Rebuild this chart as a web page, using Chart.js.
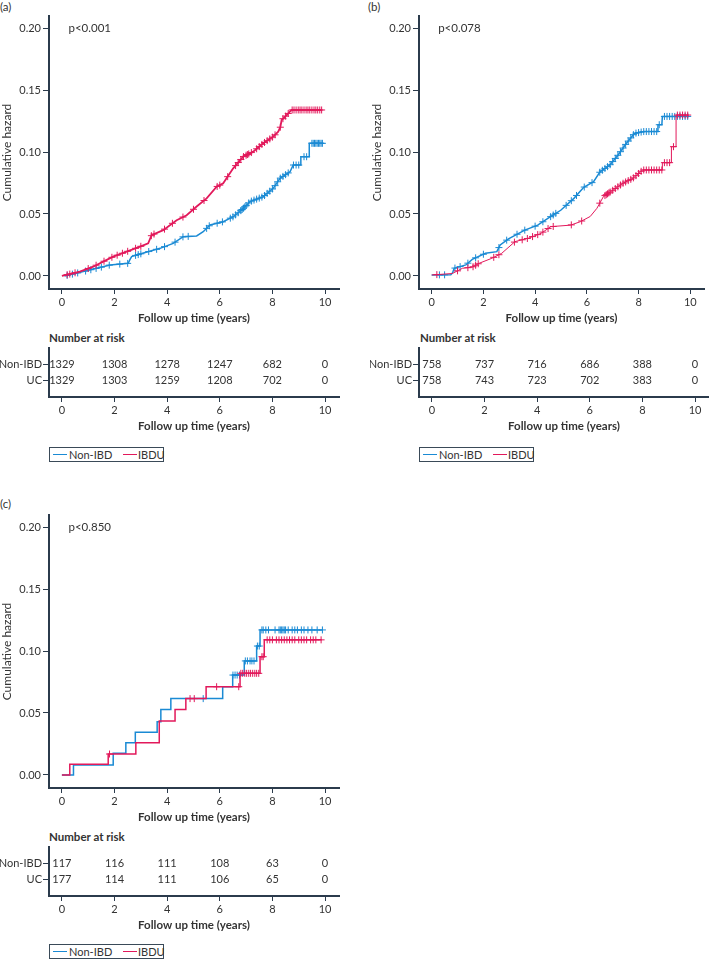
<!DOCTYPE html>
<html>
<head>
<meta charset="utf-8">
<script src="https://cdn.jsdelivr.net/npm/chart.js@4.4.1/dist/chart.umd.min.js"></script>
<style>
  body { margin: 0; background: #fff; font-family: Lato, sans-serif; color: #333; }
  #page { position: relative; width: 709px; height: 962px; overflow: hidden; }
  canvas, .lbl, .legend { position: absolute; }
  .lbl { font-size: 11.5px; line-height: 13px; white-space: nowrap; }
  .bold { font-weight: bold; }
  .legend { width: 113px; height: 13px; border: 1px solid #3a4a58; }
  .legend .ln { position: absolute; top: 6px; width: 14px; height: 1px; }
  .legend .tx { position: absolute; top: 0; font-size: 11px; line-height: 13px; }
</style>
</head>
<body>
<div id="page">
  <div class="lbl" style="left:0;top:0">(a)</div>
  <div class="lbl" style="left:368px;top:0">(b)</div>
  <div class="lbl" style="left:0;top:497px">(c)</div>

  <canvas id="mainA" width="345" height="330" style="left:0;top:0"></canvas>
  <canvas id="mainB" width="354" height="330" style="left:355px;top:0"></canvas>
  <canvas id="mainC" width="345" height="330" style="left:0;top:499px"></canvas>

  <div class="lbl bold" style="left:49px;top:331px">Number at risk</div>
  <div class="lbl bold" style="left:420px;top:331px">Number at risk</div>
  <div class="lbl bold" style="left:49px;top:830px">Number at risk</div>

  <canvas id="riskA" width="345" height="98" style="left:0;top:340px"></canvas>
  <canvas id="riskB" width="354" height="98" style="left:355px;top:340px"></canvas>
  <canvas id="riskC" width="345" height="98" style="left:0;top:839px"></canvas>

  <div class="legend" id="legA" style="left:49px;top:447px"></div>
  <div class="legend" id="legB" style="left:419px;top:447px"></div>
  <div class="legend" id="legC" style="left:49px;top:944px"></div>
</div>

<script>
const BLUE = '#1a8ad4';
const RED = '#e2195b';
const AXIS = '#2b3b4c';
const TEXT = '#333333';

const seriesNames = ['Non-IBD', 'IBDU'];
const riskRows = ['Non-IBD', 'UC'];
const xTicks = [0, 2, 4, 6, 8, 10];
const yTicks = [0, 0.05, 0.10, 0.15, 0.20];
const riskTimes = [0, 2, 4, 6, 8, 10];

// (a)
const aNonIbdT = [0.1, 0.81, 1.32, 1.83, 2.52, 2.58, 2.65, 2.97, 3.73, 4.23, 4.61, 5.12, 5.37, 5.63, 6.13, 6.51, 6.83, 7.15, 7.65, 8.03, 8.29, 8.67, 8.79, 9.08, 9.08, 9.4, 9.4, 9.94];
const aNonIbdH = [0, 0.0035, 0.0062, 0.0089, 0.0102, 0.013, 0.0156, 0.0177, 0.0223, 0.0263, 0.0317, 0.0323, 0.0357, 0.0411, 0.0438, 0.0478, 0.0532, 0.06, 0.064, 0.0707, 0.0788, 0.0841, 0.0895, 0.0895, 0.0962, 0.0962, 0.107, 0.107];
const aIbduT = [0, 0.68, 1.19, 1.57, 1.95, 2.46, 2.97, 3.28, 3.35, 3.41, 3.85, 4.36, 4.74, 5.12, 5.5, 5.88, 6.13, 6.51, 6.89, 7.27, 7.65, 8.03, 8.22, 8.3, 8.35, 8.54, 8.73, 9.87];
const aIbduH = [0, 0.0035, 0.0075, 0.0116, 0.0156, 0.0196, 0.0237, 0.0263, 0.03, 0.033, 0.037, 0.045, 0.049, 0.056, 0.0626, 0.072, 0.0747, 0.0868, 0.0962, 0.1003, 0.107, 0.1124, 0.1164, 0.12, 0.1258, 0.1298, 0.1339, 0.1339];
const aNonIbdCens = [0.2, 0.4, 0.6, 0.9, 1.1, 1.3, 1.5, 1.8, 2.2, 2.5, 2.8, 2.9, 3.0, 3.3, 3.6, 3.9, 4.3, 4.6, 4.8, 5.5, 5.6, 5.9, 6.1, 6.4, 6.5, 6.6, 6.7, 6.8, 6.85, 6.9, 6.95, 7.0, 7.1, 7.2, 7.3, 7.4, 7.5, 7.6, 7.7, 7.8, 7.9, 8.0, 8.1, 8.2, 8.3, 8.4, 8.5, 8.6, 8.8, 8.9, 9.0, 9.2, 9.3, 9.5, 9.55, 9.6, 9.65, 9.7, 9.75, 9.8, 9.85, 9.9];
const aIbduCens = [0.2, 0.3, 0.5, 1.0, 1.3, 1.6, 1.9, 2.1, 2.3, 2.5, 2.8, 3.0, 3.4, 3.5, 3.9, 4.2, 4.6, 5.0, 5.4, 5.9, 6.0, 6.3, 6.6, 6.7, 6.8, 6.9, 7.0, 7.05, 7.1, 7.2, 7.4, 7.5, 7.6, 7.7, 7.8, 7.9, 8.0, 8.1, 8.3, 8.4, 8.5, 8.6, 8.75, 8.82, 8.9, 8.98, 9.05, 9.12, 9.2, 9.28, 9.35, 9.42, 9.5, 9.58, 9.65, 9.72, 9.8, 9.87];
const aRiskNonIbd = [1329, 1308, 1278, 1247, 682, 0];
const aRiskUc = [1329, 1303, 1259, 1208, 702, 0];

// (b)
const bNonIbdT = [0, 0.74, 0.81, 0.87, 1.32, 1.57, 2.08, 2.52, 2.65, 2.97, 3.6, 4.1, 4.61, 4.99, 5.5, 5.88, 6.26, 6.51, 6.89, 7.21, 7.53, 7.84, 8.2, 8.72, 8.75, 8.9, 8.92, 9.94];
const bNonIbdH = [0.0008, 0.001, 0.0027, 0.0062, 0.0089, 0.0134, 0.0183, 0.0196, 0.025, 0.03, 0.037, 0.041, 0.048, 0.053, 0.0626, 0.0715, 0.076, 0.084, 0.0895, 0.0976, 0.107, 0.115, 0.1165, 0.1165, 0.122, 0.122, 0.1287, 0.1287];
const bIbduT = [0, 0.8, 1.19, 1.57, 1.83, 2.33, 2.71, 3.22, 3.73, 4.23, 4.61, 5.37, 5.75, 6.13, 6.39, 6.64, 7.02, 7.4, 7.78, 8.16, 8.92, 8.92, 9.27, 9.27, 9.45, 9.45, 9.94];
const bIbduH = [0.0008, 0.002, 0.0062, 0.0071, 0.0102, 0.0143, 0.0183, 0.0277, 0.0304, 0.0344, 0.0398, 0.041, 0.0438, 0.048, 0.0546, 0.064, 0.0694, 0.0748, 0.0788, 0.0855, 0.0855, 0.0914, 0.0914, 0.1043, 0.1043, 0.1298, 0.1298];
const bNonIbdCens = [0.3, 0.5, 0.9, 1.1, 1.4, 1.7, 2.0, 2.6, 2.9, 3.3, 3.6, 4.0, 4.3, 4.6, 4.7, 4.8, 5.2, 5.4, 5.6, 5.9, 6.2, 6.5, 6.6, 6.7, 6.8, 6.9, 7.0, 7.1, 7.2, 7.3, 7.4, 7.5, 7.6, 7.7, 7.8, 7.9, 8.0, 8.1, 8.2, 8.3, 8.4, 8.5, 8.6, 8.7, 8.8, 9.0, 9.1, 9.2, 9.3, 9.4, 9.5, 9.6, 9.7, 9.8, 9.9];
const bIbduCens = [0.2, 1.0, 1.4, 1.6, 1.7, 1.8, 2.4, 2.6, 3.2, 3.5, 3.7, 3.9, 4.1, 4.3, 4.5, 4.7, 5.4, 5.8, 6.5, 6.7, 6.75, 6.8, 6.85, 6.9, 7.0, 7.1, 7.2, 7.3, 7.4, 7.5, 7.6, 7.7, 7.8, 7.9, 8.0, 8.1, 8.2, 8.3, 8.4, 8.5, 8.6, 8.7, 8.8, 8.9, 9.0, 9.1, 9.2, 9.35, 9.5, 9.6, 9.7, 9.8, 9.9];
const bRiskNonIbd = [758, 737, 716, 686, 388, 0];
const bRiskUc = [758, 743, 723, 702, 383, 0];

// (c) step curves, value changes at each time
const cNonIbdT = [0, 0.44, 1.95, 2.43, 2.79, 3.62, 3.76, 4.14, 6.11, 6.49, 6.93, 7.4, 7.53, 9.91];
const cNonIbdH = [0, 0.0081, 0.0175, 0.026, 0.0344, 0.043, 0.0528, 0.0616, 0.0712, 0.0806, 0.092, 0.104, 0.117, 0.117];
const cIbduT = [0, 0.3, 1.76, 2.81, 3.7, 4.3, 4.71, 5.48, 6.77, 7.53, 7.69, 9.87];
const cIbduH = [0, 0.0086, 0.0169, 0.026, 0.0435, 0.0528, 0.0616, 0.0712, 0.082, 0.0954, 0.109, 0.109];
const cNonIbdCens = [5.37, 6.5, 6.58, 6.66, 6.75, 6.97, 7.05, 7.15, 7.22, 7.3, 7.43, 7.5, 7.6, 7.65, 7.75, 7.85, 8.1, 8.25, 8.3, 8.35, 8.4, 8.45, 8.5, 8.6, 8.75, 8.85, 8.95, 9.1, 9.2, 9.35, 9.5, 9.7, 9.9];
const cIbduCens = [1.81, 4.87, 5.03, 5.88, 6.72, 6.8, 6.87, 6.95, 7.02, 7.1, 7.17, 7.25, 7.33, 7.4, 7.48, 7.6, 7.65, 7.8, 7.9, 8.0, 8.15, 8.25, 8.35, 8.45, 8.55, 8.65, 8.75, 8.85, 9.0, 9.1, 9.2, 9.3, 9.45, 9.55, 9.65, 9.85];
const cRiskNonIbd = [117, 116, 111, 108, 63, 0];
const cRiskUc = [177, 114, 111, 106, 65, 0];

const pTexts = ['p<0.001', 'p<0.078', 'p<0.850'];

Chart.defaults.font.family = 'Lato, sans-serif';
Chart.defaults.font.size = 11;
Chart.defaults.color = TEXT;
Chart.defaults.animation = false;

// height of the curve at a censoring time
function valueAt(ts, hs, t, stepped) {
    for (let i = 1; i < ts.length; i++) {
        if (t < ts[i]) {
            if (stepped) return hs[i - 1];
            const f = (t - ts[i - 1]) / (ts[i] - ts[i - 1]);
            return hs[i - 1] + f * (hs[i] - hs[i - 1]);
        }
    }
    return hs[hs.length - 1];
}

function toPoints(ts, hs) {
    return ts.map((t, i) => ({ x: t, y: hs[i] }));
}

function censPoints(cens, ts, hs, stepped) {
    return cens.map(t => ({ x: t, y: valueAt(ts, hs, t, stepped) }));
}

function xAxis(fitHeight) {
    return {
        type: 'linear',
        min: -0.49,
        max: 10.53,
        afterBuildTicks: s => { s.ticks = xTicks.map(v => ({ value: v })); },
        afterFit: s => { s.height = fitHeight; },
        ticks: { padding: 2, callback: v => String(v) },
        grid: { drawOnChartArea: false, drawTicks: true, tickLength: 5, color: AXIS, lineWidth: 1 },
        border: { display: true, color: AXIS, width: 2 },
        title: { display: true, text: 'Follow up time (years)', font: { weight: 'bold', size: 11.5 }, padding: { top: 0, bottom: 5 } }
    };
}

function pPlugin(text) {
    return {
        id: 'pText',
        afterDraw(chart) {
            const { ctx, scales } = chart;
            ctx.save();
            ctx.font = '11.5px Lato, sans-serif';
            ctx.fillStyle = TEXT;
            ctx.textAlign = 'left';
            ctx.textBaseline = 'middle';
            ctx.fillText(text, scales.x.getPixelForValue(0.25), scales.y.getPixelForValue(0.2));
            ctx.restore();
        }
    };
}

function mainChart(id, padLeft, padRight, blue, red, stepped, pText) {
    const ctx = document.getElementById(id).getContext('2d');
    new Chart(ctx, {
        type: 'scatter',
        data: {
            datasets: [
                {
                    label: seriesNames[1],
                    data: toPoints(red.t, red.h),
                    showLine: true, stepped: stepped,
                    borderColor: RED, borderWidth: red.w, pointRadius: 0
                },
                {
                    label: seriesNames[1] + ' censored',
                    data: censPoints(red.cens, red.t, red.h, stepped),
                    pointStyle: 'cross', pointRadius: 3.5, borderColor: RED, borderWidth: 1, backgroundColor: RED
                },
                {
                    label: seriesNames[0],
                    data: toPoints(blue.t, blue.h),
                    showLine: true, stepped: stepped,
                    borderColor: BLUE, borderWidth: blue.w, pointRadius: 0
                },
                {
                    label: seriesNames[0] + ' censored',
                    data: censPoints(blue.cens, blue.t, blue.h, stepped),
                    pointStyle: 'cross', pointRadius: 3.5, borderColor: BLUE, borderWidth: 1, backgroundColor: BLUE
                }
            ]
        },
        options: {
            responsive: false,
            layout: { padding: { top: 16, left: padLeft, right: padRight, bottom: 0 } },
            plugins: { legend: { display: false }, tooltip: { enabled: false } },
            scales: {
                x: xAxis(41),
                y: {
                    type: 'linear',
                    min: -0.0105,
                    max: 0.2097,
                    afterBuildTicks: s => { s.ticks = yTicks.map(v => ({ value: v })); },
                    afterFit: s => { s.width = 49; },
                    ticks: { padding: 2, callback: v => v.toFixed(2) },
                    grid: { drawOnChartArea: false, drawTicks: true, tickLength: 6, color: AXIS, lineWidth: 1 },
                    border: { display: true, color: AXIS, width: 2 },
                    title: { display: true, text: 'Cumulative hazard', font: { size: 12 }, padding: { top: 0, bottom: 0 } }
                }
            }
        },
        plugins: [pPlugin(pText)]
    });
}

function riskPlugin(rows) {
    return {
        id: 'riskNumbers',
        afterDraw(chart) {
            const { ctx, scales } = chart;
            ctx.save();
            ctx.font = '11px Lato, sans-serif';
            ctx.fillStyle = TEXT;
            ctx.textAlign = 'center';
            ctx.textBaseline = 'middle';
            rows.forEach((row, i) => {
                row.forEach((n, j) => {
                    ctx.fillText(String(n), scales.x.getPixelForValue(riskTimes[j]), scales.y.getPixelForValue(i + 1));
                });
            });
            ctx.restore();
        }
    };
}

function riskChart(id, padLeft, padRight, rows) {
    const ctx = document.getElementById(id).getContext('2d');
    new Chart(ctx, {
        type: 'scatter',
        data: { datasets: [{ data: [], pointRadius: 0 }] },
        options: {
            responsive: false,
            layout: { padding: { top: 4, left: padLeft, right: padRight, bottom: 0 } },
            plugins: { legend: { display: false }, tooltip: { enabled: false } },
            scales: {
                x: xAxis(41),
                y: {
                    type: 'linear',
                    min: 0,
                    max: 3,
                    reverse: true,
                    afterBuildTicks: s => { s.ticks = [1, 2].map(v => ({ value: v })); },
                    afterFit: s => { s.width = 49; },
                    ticks: { padding: 1, callback: v => riskRows[v - 1] },
                    grid: { drawOnChartArea: false, drawTicks: true, tickLength: 6, color: AXIS, lineWidth: 1 },
                    border: { display: true, color: AXIS, width: 2 }
                }
            }
        },
        plugins: [riskPlugin(rows)]
    });
}

function legend(id) {
    const el = document.getElementById(id);
    const colors = [BLUE, RED];
    const lineLeft = [3, 73];
    const textLeft = [19, 88];
    seriesNames.forEach((name, i) => {
        const ln = document.createElement('span');
        ln.className = 'ln';
        ln.style.left = lineLeft[i] + 'px';
        ln.style.background = colors[i];
        const tx = document.createElement('span');
        tx.className = 'tx';
        tx.style.left = textLeft[i] + 'px';
        tx.textContent = name;
        el.appendChild(ln);
        el.appendChild(tx);
    });
}

mainChart('mainA', 0, 6,
    { t: aNonIbdT, h: aNonIbdH, cens: aNonIbdCens, w: 1.5 },
    { t: aIbduT, h: aIbduH, cens: aIbduCens, w: 1.8 }, false, pTexts[0]);
mainChart('mainB', 15, 0,
    { t: bNonIbdT, h: bNonIbdH, cens: bNonIbdCens, w: 1.5 },
    { t: bIbduT, h: bIbduH, cens: bIbduCens, w: 1 }, false, pTexts[1]);
mainChart('mainC', 0, 6,
    { t: cNonIbdT, h: cNonIbdH, cens: cNonIbdCens, w: 1.5 },
    { t: cIbduT, h: cIbduH, cens: cIbduCens, w: 1.5 }, true, pTexts[2]);

riskChart('riskA', 0, 6, [aRiskNonIbd, aRiskUc]);
riskChart('riskB', 15, 0, [bRiskNonIbd, bRiskUc]);
riskChart('riskC', 0, 6, [cRiskNonIbd, cRiskUc]);

legend('legA');
legend('legB');
legend('legC');
</script>
</body>
</html>
